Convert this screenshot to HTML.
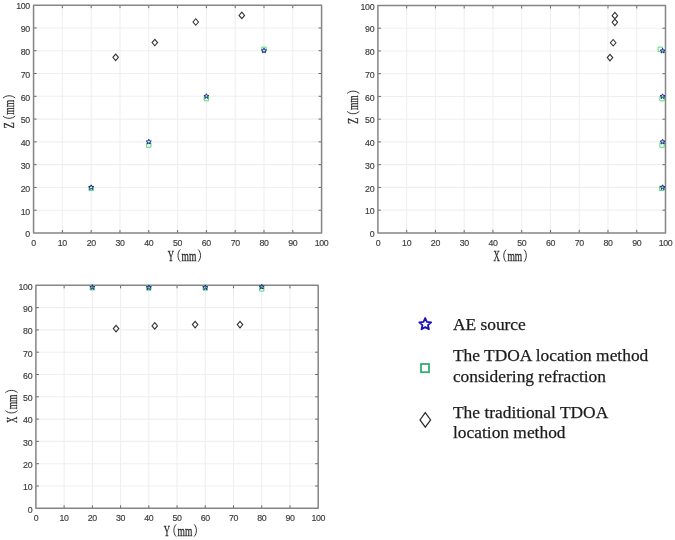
<!DOCTYPE html>
<html><head><meta charset="utf-8"><title>TDOA location results</title>
<style>html,body{margin:0;padding:0;background:#fff;}svg{display:block;will-change:transform;}</style></head>
<body><svg width="675" height="540" viewBox="0 0 675 540">
<rect width="675" height="540" fill="#fff"/>
<path d="M62.37 5.15V233M33.57 210.22H321.6M91.18 5.15V233M33.57 187.43H321.6M119.98 5.15V233M33.57 164.64H321.6M148.78 5.15V233M33.57 141.86H321.6M177.59 5.15V233M33.57 119.08H321.6M206.39 5.15V233M33.57 96.29H321.6M235.19 5.15V233M33.57 73.5H321.6M263.99 5.15V233M33.57 50.72H321.6M292.8 5.15V233M33.57 27.94H321.6" stroke="#efefef" stroke-width="1.1" fill="none"/>
<path d="M62.37 233v-3M62.37 5.15v3M33.57 210.22h3M321.6 210.22h-3M91.18 233v-3M91.18 5.15v3M33.57 187.43h3M321.6 187.43h-3M119.98 233v-3M119.98 5.15v3M33.57 164.64h3M321.6 164.64h-3M148.78 233v-3M148.78 5.15v3M33.57 141.86h3M321.6 141.86h-3M177.59 233v-3M177.59 5.15v3M33.57 119.08h3M321.6 119.08h-3M206.39 233v-3M206.39 5.15v3M33.57 96.29h3M321.6 96.29h-3M235.19 233v-3M235.19 5.15v3M33.57 73.5h3M321.6 73.5h-3M263.99 233v-3M263.99 5.15v3M33.57 50.72h3M321.6 50.72h-3M292.8 233v-3M292.8 5.15v3M33.57 27.94h3M321.6 27.94h-3" stroke="#666" stroke-width="1" fill="none"/>
<rect x="33.57" y="5.15" width="288.03" height="227.85" fill="none" stroke="#858585" stroke-width="1.5" stroke-linejoin="round"/>
<g font-family="Liberation Sans, sans-serif" font-size="8.8" letter-spacing="-0.35" fill="#3a3a3a" stroke="#3a3a3a" stroke-width="0.15"><text x="33.57" y="246.1" text-anchor="middle">0</text><text x="29.87" y="237.3" text-anchor="end">0</text><text x="62.37" y="246.1" text-anchor="middle">10</text><text x="29.87" y="214.51" text-anchor="end">10</text><text x="91.18" y="246.1" text-anchor="middle">20</text><text x="29.87" y="191.73" text-anchor="end">20</text><text x="119.98" y="246.1" text-anchor="middle">30</text><text x="29.87" y="168.94" text-anchor="end">30</text><text x="148.78" y="246.1" text-anchor="middle">40</text><text x="29.87" y="146.16" text-anchor="end">40</text><text x="177.59" y="246.1" text-anchor="middle">50</text><text x="29.87" y="123.38" text-anchor="end">50</text><text x="206.39" y="246.1" text-anchor="middle">60</text><text x="29.87" y="100.59" text-anchor="end">60</text><text x="235.19" y="246.1" text-anchor="middle">70</text><text x="29.87" y="77.8" text-anchor="end">70</text><text x="263.99" y="246.1" text-anchor="middle">80</text><text x="29.87" y="55.02" text-anchor="end">80</text><text x="292.8" y="246.1" text-anchor="middle">90</text><text x="29.87" y="32.23" text-anchor="end">90</text><text x="321.6" y="246.1" text-anchor="middle">100</text><text x="29.87" y="9.45" text-anchor="end">100</text></g>
<path d="M406.66 5.45V232.9M377.9 210.16H665.5M435.42 5.45V232.9M377.9 187.41H665.5M464.18 5.45V232.9M377.9 164.66H665.5M492.94 5.45V232.9M377.9 141.92H665.5M521.7 5.45V232.9M377.9 119.18H665.5M550.46 5.45V232.9M377.9 96.43H665.5M579.22 5.45V232.9M377.9 73.68H665.5M607.98 5.45V232.9M377.9 50.94H665.5M636.74 5.45V232.9M377.9 28.19H665.5" stroke="#efefef" stroke-width="1.1" fill="none"/>
<path d="M406.66 232.9v-3M406.66 5.45v3M377.9 210.16h3M665.5 210.16h-3M435.42 232.9v-3M435.42 5.45v3M377.9 187.41h3M665.5 187.41h-3M464.18 232.9v-3M464.18 5.45v3M377.9 164.66h3M665.5 164.66h-3M492.94 232.9v-3M492.94 5.45v3M377.9 141.92h3M665.5 141.92h-3M521.7 232.9v-3M521.7 5.45v3M377.9 119.18h3M665.5 119.18h-3M550.46 232.9v-3M550.46 5.45v3M377.9 96.43h3M665.5 96.43h-3M579.22 232.9v-3M579.22 5.45v3M377.9 73.68h3M665.5 73.68h-3M607.98 232.9v-3M607.98 5.45v3M377.9 50.94h3M665.5 50.94h-3M636.74 232.9v-3M636.74 5.45v3M377.9 28.19h3M665.5 28.19h-3" stroke="#666" stroke-width="1" fill="none"/>
<rect x="377.9" y="5.45" width="287.6" height="227.45" fill="none" stroke="#858585" stroke-width="1.5" stroke-linejoin="round"/>
<g font-family="Liberation Sans, sans-serif" font-size="8.8" letter-spacing="-0.35" fill="#3a3a3a" stroke="#3a3a3a" stroke-width="0.15"><text x="377.9" y="246" text-anchor="middle">0</text><text x="374.2" y="237.2" text-anchor="end">0</text><text x="406.66" y="246" text-anchor="middle">10</text><text x="374.2" y="214.45" text-anchor="end">10</text><text x="435.42" y="246" text-anchor="middle">20</text><text x="374.2" y="191.71" text-anchor="end">20</text><text x="464.18" y="246" text-anchor="middle">30</text><text x="374.2" y="168.96" text-anchor="end">30</text><text x="492.94" y="246" text-anchor="middle">40</text><text x="374.2" y="146.22" text-anchor="end">40</text><text x="521.7" y="246" text-anchor="middle">50</text><text x="374.2" y="123.48" text-anchor="end">50</text><text x="550.46" y="246" text-anchor="middle">60</text><text x="374.2" y="100.73" text-anchor="end">60</text><text x="579.22" y="246" text-anchor="middle">70</text><text x="374.2" y="77.98" text-anchor="end">70</text><text x="607.98" y="246" text-anchor="middle">80</text><text x="374.2" y="55.24" text-anchor="end">80</text><text x="636.74" y="246" text-anchor="middle">90</text><text x="374.2" y="32.49" text-anchor="end">90</text><text x="665.5" y="246" text-anchor="middle">100</text><text x="374.2" y="9.75" text-anchor="end">100</text></g>
<path d="M64.13 285.3V508.3M35.9 486H318.2M92.36 285.3V508.3M35.9 463.7H318.2M120.59 285.3V508.3M35.9 441.4H318.2M148.82 285.3V508.3M35.9 419.1H318.2M177.05 285.3V508.3M35.9 396.8H318.2M205.28 285.3V508.3M35.9 374.5H318.2M233.51 285.3V508.3M35.9 352.2H318.2M261.74 285.3V508.3M35.9 329.9H318.2M289.97 285.3V508.3M35.9 307.6H318.2" stroke="#efefef" stroke-width="1.1" fill="none"/>
<path d="M64.13 508.3v-3M64.13 285.3v3M35.9 486h3M318.2 486h-3M92.36 508.3v-3M92.36 285.3v3M35.9 463.7h3M318.2 463.7h-3M120.59 508.3v-3M120.59 285.3v3M35.9 441.4h3M318.2 441.4h-3M148.82 508.3v-3M148.82 285.3v3M35.9 419.1h3M318.2 419.1h-3M177.05 508.3v-3M177.05 285.3v3M35.9 396.8h3M318.2 396.8h-3M205.28 508.3v-3M205.28 285.3v3M35.9 374.5h3M318.2 374.5h-3M233.51 508.3v-3M233.51 285.3v3M35.9 352.2h3M318.2 352.2h-3M261.74 508.3v-3M261.74 285.3v3M35.9 329.9h3M318.2 329.9h-3M289.97 508.3v-3M289.97 285.3v3M35.9 307.6h3M318.2 307.6h-3" stroke="#666" stroke-width="1" fill="none"/>
<rect x="35.9" y="285.3" width="282.3" height="223" fill="none" stroke="#858585" stroke-width="1.5" stroke-linejoin="round"/>
<g font-family="Liberation Sans, sans-serif" font-size="8.8" letter-spacing="-0.35" fill="#3a3a3a" stroke="#3a3a3a" stroke-width="0.15"><text x="35.9" y="521.4" text-anchor="middle">0</text><text x="32.2" y="512.6" text-anchor="end">0</text><text x="64.13" y="521.4" text-anchor="middle">10</text><text x="32.2" y="490.3" text-anchor="end">10</text><text x="92.36" y="521.4" text-anchor="middle">20</text><text x="32.2" y="468" text-anchor="end">20</text><text x="120.59" y="521.4" text-anchor="middle">30</text><text x="32.2" y="445.7" text-anchor="end">30</text><text x="148.82" y="521.4" text-anchor="middle">40</text><text x="32.2" y="423.4" text-anchor="end">40</text><text x="177.05" y="521.4" text-anchor="middle">50</text><text x="32.2" y="401.1" text-anchor="end">50</text><text x="205.28" y="521.4" text-anchor="middle">60</text><text x="32.2" y="378.8" text-anchor="end">60</text><text x="233.51" y="521.4" text-anchor="middle">70</text><text x="32.2" y="356.5" text-anchor="end">70</text><text x="261.74" y="521.4" text-anchor="middle">80</text><text x="32.2" y="334.2" text-anchor="end">80</text><text x="289.97" y="521.4" text-anchor="middle">90</text><text x="32.2" y="311.9" text-anchor="end">90</text><text x="318.2" y="521.4" text-anchor="middle">100</text><text x="32.2" y="289.6" text-anchor="end">100</text></g>
<path d="M115.66 54.08L118.41 57.33L115.66 60.58L112.91 57.33ZM154.83 39.27L157.58 42.52L154.83 45.77L152.08 42.52ZM195.73 18.76L198.48 22.01L195.73 25.26L192.98 22.01ZM241.82 12.15L244.57 15.4L241.82 18.65L239.07 15.4Z" fill="none" stroke="#333" stroke-width="1.1"/>
<path d="M88.98 186.14h4.4v4.4h-4.4ZM146.58 142.85h4.4v4.4h-4.4ZM204.19 96.37h4.4v4.4h-4.4ZM261.79 47.15h4.4v4.4h-4.4Z" fill="none" stroke="#55dc7a" stroke-width="1.0"/>
<path d="M91.18,184.83 L91.88,186.46 L93.65,186.63 L92.32,187.8 L92.7,189.53 L91.18,188.63 L89.65,189.53 L90.03,187.8 L88.7,186.63 L90.47,186.46ZM148.78,139.26 L149.49,140.89 L151.25,141.06 L149.92,142.23 L150.31,143.96 L148.78,143.06 L147.25,143.96 L147.64,142.23 L146.31,141.06 L148.08,140.89ZM206.39,93.69 L207.09,95.32 L208.86,95.49 L207.53,96.66 L207.92,98.39 L206.39,97.49 L204.86,98.39 L205.25,96.66 L203.92,95.49 L205.68,95.32ZM263.99,48.12 L264.7,49.75 L266.47,49.92 L265.14,51.09 L265.52,52.82 L263.99,51.92 L262.47,52.82 L262.85,51.09 L261.52,49.92 L263.29,49.75Z" fill="none" stroke="#1c2a90" stroke-width="1.0" stroke-linejoin="round"/>
<path d="M609.99 54.29L612.74 57.54L609.99 60.79L607.24 57.54ZM613.16 39.5L615.91 42.75L613.16 46L610.41 42.75ZM614.88 19.03L617.63 22.28L614.88 25.53L612.13 22.28ZM614.88 12.44L617.63 15.69L614.88 18.94L612.13 15.69Z" fill="none" stroke="#333" stroke-width="1.1"/>
<path d="M659.56 186.12h4.4v4.4h-4.4ZM659.85 142.9h4.4v4.4h-4.4ZM659.85 96.5h4.4v4.4h-4.4ZM658.12 47.15h4.4v4.4h-4.4Z" fill="none" stroke="#55dc7a" stroke-width="1.0"/>
<path d="M662.62,184.81 L663.33,186.44 L665.1,186.61 L663.77,187.78 L664.15,189.51 L662.62,188.61 L661.1,189.51 L661.48,187.78 L660.15,186.61 L661.92,186.44ZM662.62,139.32 L663.33,140.95 L665.1,141.12 L663.77,142.29 L664.15,144.02 L662.62,143.12 L661.1,144.02 L661.48,142.29 L660.15,141.12 L661.92,140.95ZM662.62,93.83 L663.33,95.46 L665.1,95.63 L663.77,96.8 L664.15,98.53 L662.62,97.63 L661.1,98.53 L661.48,96.8 L660.15,95.63 L661.92,95.46ZM662.62,48.34 L663.33,49.97 L665.1,50.14 L663.77,51.31 L664.15,53.04 L662.62,52.14 L661.1,53.04 L661.48,51.31 L660.15,50.14 L661.92,49.97Z" fill="none" stroke="#1c2a90" stroke-width="1.0" stroke-linejoin="round"/>
<path d="M116.07 325.31L118.82 328.56L116.07 331.81L113.32 328.56ZM154.75 322.64L157.5 325.89L154.75 329.14L152 325.89ZM195.12 321.3L197.87 324.55L195.12 327.8L192.37 324.55ZM240 321.3L242.75 324.55L240 327.8L237.25 324.55Z" fill="none" stroke="#333" stroke-width="1.1"/>
<path d="M90.16 285.55h4.4v4.4h-4.4ZM146.62 285.78h4.4v4.4h-4.4ZM203.08 285.78h4.4v4.4h-4.4ZM259.54 286.67h4.4v4.4h-4.4Z" fill="none" stroke="#55dc7a" stroke-width="1.0"/>
<path d="M92.36,284.71 L93.07,286.34 L94.83,286.5 L93.5,287.68 L93.89,289.41 L92.36,288.51 L90.83,289.41 L91.22,287.68 L89.89,286.5 L91.65,286.34ZM148.82,284.93 L149.53,286.56 L151.29,286.73 L149.96,287.9 L150.35,289.63 L148.82,288.73 L147.29,289.63 L147.68,287.9 L146.35,286.73 L148.11,286.56ZM205.28,284.93 L205.99,286.56 L207.75,286.73 L206.42,287.9 L206.81,289.63 L205.28,288.73 L203.75,289.63 L204.14,287.9 L202.81,286.73 L204.57,286.56ZM261.74,284.26 L262.45,285.89 L264.21,286.06 L262.88,287.23 L263.27,288.96 L261.74,288.06 L260.21,288.96 L260.6,287.23 L259.27,286.06 L261.03,285.89Z" fill="none" stroke="#1c2a90" stroke-width="1.0" stroke-linejoin="round"/>
<g transform="translate(167.8,260.7)" font-family="Liberation Serif, serif" font-size="15.2" fill="#2a2a2a" stroke="#2a2a2a" stroke-width="0.3"><text x="0" y="0" textLength="6.3" lengthAdjust="spacingAndGlyphs">Y</text><text x="13.8" y="0" textLength="14.8" lengthAdjust="spacingAndGlyphs">mm</text><path d="M12.5 -11.2 C9.4 -8.2 9.4 -2.0 12.5 1.0" fill="none" stroke="#333" stroke-width="1"/><path d="M30.4 -11.2 C33.5 -8.2 33.5 -2.0 30.4 1.0" fill="none" stroke="#333" stroke-width="1"/></g>
<g transform="translate(493.6,260.8)" font-family="Liberation Serif, serif" font-size="15.2" fill="#2a2a2a" stroke="#2a2a2a" stroke-width="0.3"><text x="0" y="0" textLength="6.3" lengthAdjust="spacingAndGlyphs">X</text><text x="13.8" y="0" textLength="14.8" lengthAdjust="spacingAndGlyphs">mm</text><path d="M12.5 -11.2 C9.4 -8.2 9.4 -2.0 12.5 1.0" fill="none" stroke="#333" stroke-width="1"/><path d="M30.4 -11.2 C33.5 -8.2 33.5 -2.0 30.4 1.0" fill="none" stroke="#333" stroke-width="1"/></g>
<g transform="translate(163.7,535.6)" font-family="Liberation Serif, serif" font-size="15.2" fill="#2a2a2a" stroke="#2a2a2a" stroke-width="0.3"><text x="0" y="0" textLength="6.3" lengthAdjust="spacingAndGlyphs">Y</text><text x="13.8" y="0" textLength="14.8" lengthAdjust="spacingAndGlyphs">mm</text><path d="M12.5 -11.2 C9.4 -8.2 9.4 -2.0 12.5 1.0" fill="none" stroke="#333" stroke-width="1"/><path d="M30.4 -11.2 C33.5 -8.2 33.5 -2.0 30.4 1.0" fill="none" stroke="#333" stroke-width="1"/></g>
<g transform="translate(14.2,128.5) rotate(-90)" font-family="Liberation Serif, serif" font-size="15.2" fill="#2a2a2a" stroke="#2a2a2a" stroke-width="0.3"><text x="0" y="0" textLength="6.3" lengthAdjust="spacingAndGlyphs">Z</text><text x="13.8" y="0" textLength="14.8" lengthAdjust="spacingAndGlyphs">mm</text><path d="M12.5 -11.2 C9.4 -8.2 9.4 -2.0 12.5 1.0" fill="none" stroke="#333" stroke-width="1"/><path d="M30.4 -11.2 C33.5 -8.2 33.5 -2.0 30.4 1.0" fill="none" stroke="#333" stroke-width="1"/></g>
<g transform="translate(358.3,123.9) rotate(-90)" font-family="Liberation Serif, serif" font-size="15.2" fill="#2a2a2a" stroke="#2a2a2a" stroke-width="0.3"><text x="0" y="0" textLength="6.3" lengthAdjust="spacingAndGlyphs">Z</text><text x="13.8" y="0" textLength="14.8" lengthAdjust="spacingAndGlyphs">mm</text><path d="M12.5 -11.2 C9.4 -8.2 9.4 -2.0 12.5 1.0" fill="none" stroke="#333" stroke-width="1"/><path d="M30.4 -11.2 C33.5 -8.2 33.5 -2.0 30.4 1.0" fill="none" stroke="#333" stroke-width="1"/></g>
<g transform="translate(16.6,423.1) rotate(-90)" font-family="Liberation Serif, serif" font-size="15.2" fill="#2a2a2a" stroke="#2a2a2a" stroke-width="0.3"><text x="0" y="0" textLength="6.3" lengthAdjust="spacingAndGlyphs">X</text><text x="13.8" y="0" textLength="14.8" lengthAdjust="spacingAndGlyphs">mm</text><path d="M12.5 -11.2 C9.4 -8.2 9.4 -2.0 12.5 1.0" fill="none" stroke="#333" stroke-width="1"/><path d="M30.4 -11.2 C33.5 -8.2 33.5 -2.0 30.4 1.0" fill="none" stroke="#333" stroke-width="1"/></g>
<path d="M425.2,318 L426.89,321.92 L431.14,322.32 L427.93,325.14 L428.87,329.31 L425.2,327.12 L421.53,329.31 L422.47,325.14 L419.26,322.32 L423.51,321.92Z" fill="none" stroke="#1a10c0" stroke-width="1.8" stroke-linejoin="round"/>
<rect x="421.0" y="364.0" width="8.0" height="8.2" fill="none" stroke="#3aa878" stroke-width="1.8"/>
<path d="M425.3 412.6L430.6 419.9L425.3 427.2L420 419.9Z" fill="none" stroke="#2a2a2a" stroke-width="1.2"/>
<g font-family="Liberation Serif, serif" font-size="17.4" fill="#1c1c1c" stroke="#1c1c1c" stroke-width="0.25"><text x="452.9" y="329.9">AE source</text><text x="453.0" y="360.7">The TDOA location method</text><text x="452.9" y="382.3">considering refraction</text><text x="453.0" y="417.5">The traditional TDOA</text><text x="453.0" y="438.4">location method</text></g>
</svg></body></html>
